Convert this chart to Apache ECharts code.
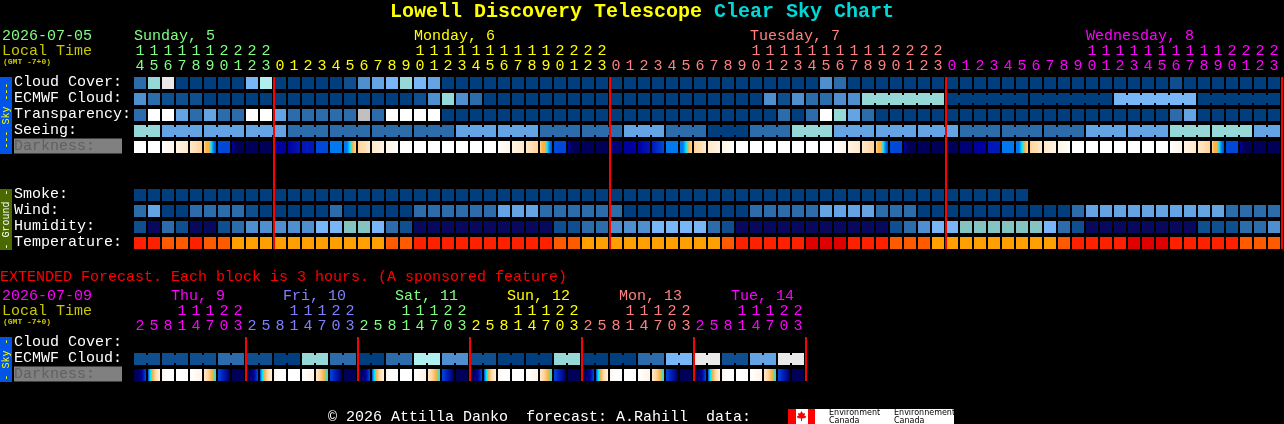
<!DOCTYPE html>
<html>
<head>
<meta charset="utf-8">
<style>html,body{margin:0;padding:0;background:#000;}#c{width:1284px;height:424px;}</style>
<script src="https://cdn.jsdelivr.net/npm/echarts@6/dist/echarts.min.js"></script>
</head>
<body>
<div id="c"></div>
<script>
// ---------- data ----------
const mainHours = [14,15,16,17,18,19,20,21,22,23,
  0,1,2,3,4,5,6,7,8,9,10,11,12,13,14,15,16,17,18,19,20,21,22,23,
  0,1,2,3,4,5,6,7,8,9,10,11,12,13,14,15,16,17,18,19,20,21,22,23,
  0,1,2,3,4,5,6,7,8,9,10,11,12,13,14,15,16,17,18,19,20,21,22,23];
const mainDayLengths = [10,24,24,24];
const mainDayLabels = ['Sunday, 5','Monday, 6','Tuesday, 7','Wednesday, 8'];
const mainDayLabelCols = [0,20,44,68];
const rowLabels = ['Cloud Cover:','ECMWF Cloud:','Transparency:','Seeing:','Darkness:',' ','  ','Smoke:','Wind:','Humidity:','Temperature:'];

const cloudCover = [2,6,8,0,0,0,0,0,5,7, 0,0,0,0,0,1,3,4,5,6,5,4,
  0,0,0,0,0,0,0,0,0,0,0,0,0,0,0,0,0,0,0,0,0,0,0,0,0,0,0, 3,2,
  0,0,0,0,0,0,0,0,0,0,0,0,0,0,0,0,0,0,0,0,0,0,0, 1, 0,0,0,0,0,0,0];
const ecmwfCloud = [3,2,1,1,1, 0,0,0,0,0,0,0,0,0,0,0,0,0,0,0, 1,3,6,3,2,
  0,0,0,0,0,0,0,0,0,0,0,0,0,0,0,0,0,0,0,0, 3,1,3,2,2,3,3,
  6,6,6,6,6,6, 0,0,0,0,0,0, 0,0,0,0,0,0, 5,5,5,5,5,5, 0,0,0,0,0,0];
const ecmwfBlocks = [1,1,1,1,1,1,1,1,1,1,1,1,1,1,1,1,1,1,1,1,1,1,1,1,1,1,
  1,1,1,1,1,1,1,1,1,1,1,1,1,1,1,1,1,1,1,1,1,1,1,1,1,1, 6,6,6,6,6];
const transparency = [2,9,9,4,2,4,2,2,9,9, 4,2,2,2,2,2,10,2,9,9,9,9,
  0,0,0,0,0,0,0,0,0,0,0,0,0,0,0,0,0,0,0,0,0,0,0,0, 2,0,2,9,6,4,2,
  0,0,0,0,0,0,0,0,0,0,0,0,0,0,0,0,0,0,0,0,0, 2,4, 0,0,0,0,0,0];
const seeingByBlock = [6, 4,4,4, 2,2,2,2, 4,4, 2,2, 4, 2, 0, 2, 6, 4,4,4, 2,2,2, 4,4, 6,6, 4];
const seeingBlocks = [2,3,3,3,3,3,3,3,3,3,3,3,3,3,3,3,3,3,3,3,3,3,3,3,3,3,3,2];
const smoke = [0,0,0,0,0,0,0,0,0,0,0,0,0,0,0,0,0,0,0,0,0,0,0,0,0,0,0,0,0,0,0,0,
  0,0,0,0,0,0,0,0,0,0,0,0,0,0,0,0,0,0,0,0,0,0,0,0,0,0,0,0,0,0,0,0];
const wind = [2,4,0,0,2,2,2,2,1,0, 0,0,0,0,2,0,0,0,0,0, 2,2,2,2,2,2, 4,4,4, 2,2,2,2,2,2,
  0,0,0,0,0,0,0,0,0, 2,2,2,2,2, 4,4,4,4, 2,2,2, 0,0,0,0,0,0,0,0,0,0,0, 2,
  4,4,4,4,4,4,4,4,4,4, 2,2,2,2];
const humidity = [1,11,2,1,11,11,1,2,3,3, 3,3,3,5,5,12,12,5,2,1,
  11,11,11,11,11,11,11,11,11,11, 1,1,2,2,3,3,3,5,5,5,5,2,1,
  11,11,11,11,11,11,11,11,11,11,11, 1,2,3,5,5, 12,12,12,12,12,12, 5,2,1,
  11,11,11,11,11,11,11,11, 1,1,1,2,2,3];
const temperature = [2,2,1,1,2,1,1,0,0,0, 0,0,0,0,0,0,0,0, 1,1,
  2,2,2,2,2,2,2,2,2,2, 1,1, 0,0,0,0,0,0,0,0,0,0, 1, 2,2,2,2,2, 3,3,3, 2,2,2, 1,1,1,
  0,0,0,0,0,0,0,0,0, 1, 2,2,2,2, 3,3,3, 2,2,2,2,2, 1,1,1];
const darkness = [[0],[0],[0,1],[1,2],[2,3],[3,4,4,5,6,7],[7],[9,11,11,11],[11],[11],
  [9],[9,8],[8],[7],[6],[6,6,5,4,3],[3,2],[2,1],[1,0],[0],
  [0],[0],[0],[0],[0],[0],[0,1],[1,2],[2,3],[3,4,4,5,6,7],[7],[9,11,11,11],[11],[11],
  [10],[9],[9,8],[8,7],[6],[6,6,5,4,3],[3,2],[2,1],[1,0],[0],
  [0],[0],[0],[0],[0],[0],[0,1],[1,2],[2,3],[3,4,4,5,6,7],[7],[9,11,11,11],[11],[11],
  [11],[10],[9],[8],[6],[6,6,5,4,3],[3,2],[2,1],[1,0],[0],
  [0],[0],[0],[0],[0],[0],[0,1],[1,2],[2,3],[3,4,4,5,6,7],[7],[9,11,11,11],[11],[11]];

const extHours = [2,5,8,11,14,17,20,23, 2,5,8,11,14,17,20,23, 2,5,8,11,14,17,20,23,
  2,5,8,11,14,17,20,23, 2,5,8,11,14,17,20,23, 2,5,8,11,14,17,20,23];
const extDayLabels = ['Thu, 9','Fri, 10','Sat, 11','Sun, 12','Mon, 13','Tue, 14'];
const extRowLabels = ['Cloud Cover:','ECMWF Cloud:','Darkness:'];
const extEcmwfByBlock = [1,1,1,2, 1,0,6,2, 0,2,7,3, 1,0,0,6, 0,0,2,5, 8,1,4,8];
const extDarkness = [
  [11,11,9,7],[7,5,4,3,2,1],[1,0,0,0],[0],[0,1],[2,3,4,5],[7,8,11],[11],
  [11,11,9,7],[7,5,4,3,2,1],[1,0,0,0],[0],[0,1],[2,3,4,5],[7,8,11],[11],
  [11,11,9,7],[7,5,4,3,2,1],[1,0,0,0],[0],[0,1],[2,3,4,5],[7,8,11],[11],
  [11,11,9,7],[7,5,4,3,2,1],[1,0,0,0],[0],[0,1],[2,3,4,5],[7,8,11],[11],
  [11,11,9,7],[7,5,4,3,2,1],[1,0,0,0],[0],[0,1],[2,3,4,5],[7,8,11],[11],
  [11,11,9,7],[7,5,4,3,2,1],[1,0,0,0],[0],[0,1],[2,3,4,5],[7,8,11],[11]];

// ---------- styles ----------
const levelColors = ['#003e7e','#0f4f8f','#2c6cab','#4f8ecf','#64a4e4','#78b6f8','#96d8d8','#b0efef','#e9e9e9','#ffffff','#c0c0c0','#08085c','#85c2c2'];
const tempColors = ['#ffa000','#ff5a00','#ff2000','#e00000'];
const darkColors = ['#ffffff','#fff4e6','#ffe8c8','#ffd49a','#ffb040','#00e8ff','#0078f0','#0048d8','#0018b8','#0000a0','#000078','#000058'];
const mainDayColors = ['#80ff80','#ffff00','#ff8080','#ff00ff'];
const extDayColors = ['#ff00ff','#8080ff','#80ff80','#ffff00','#ff8080','#ff00ff'];
const MONO = '"Liberation Mono"';

// ---------- helpers ----------
const chart = echarts.init(document.getElementById('c'), null, {renderer:'canvas', width:1284, height:424, devicePixelRatio:1});
const CELL = 12, HALF = 6, BRIDGE = 8;

function dayColorFn(lengths, colors){
  const out = [];
  lengths.forEach((n,i)=>{ for(let k=0;k<n;k++) out.push(colors[i]); });
  return out;
}
const mainColColors = dayColorFn(mainDayLengths, mainDayColors);
const extColColors = dayColorFn([8,8,8,8,8,8], extDayColors);

function cellSeries(g, row, values, palette, joins){
  return {
    type:'custom', xAxisIndex:g, yAxisIndex:g, silent:true, animation:false,
    encode:{x:0,y:1},
    renderItem:function(params, api){
      const p = api.coord([api.value(0), api.value(1)]);
      const x = Math.round(p[0]) - HALF, y = Math.round(p[1]) - HALF;
      const fill = palette[api.value(2)];
      const kids = [{type:'rect', shape:{x, y, width:CELL, height:CELL}, style:{fill}}];
      if (api.value(3)) {
        kids.push({type:'rect', shape:{x:x+CELL, y:y+(CELL-BRIDGE)/2, width:2, height:BRIDGE}, style:{fill}});
      }
      return {type:'group', children:kids};
    },
    data: values.map((v,i)=>[i,row,v,joins && joins[i] ? 1 : 0])
  };
}
function expandBlocks(byBlock, blocks){
  const vals=[], joins=[];
  blocks.forEach((n,b)=>{ for(let k=0;k<n;k++){ vals.push(byBlock[b]); joins.push(k<n-1); } });
  return {vals, joins};
}
function joinsOf(blocks){ return expandBlocks(blocks, blocks).joins; }

function darkSeries(g, row, cells){
  return {
    type:'custom', xAxisIndex:g, yAxisIndex:g, silent:true, animation:false,
    encode:{x:0,y:1},
    renderItem:function(params, api){
      const p = api.coord([api.value(0), api.value(1)]);
      const stops = cells[params.dataIndex];
      const fill = stops.length===1 ? darkColors[stops[0]] :
        new echarts.graphic.LinearGradient(0,0,1,0, stops.map((s,i)=>({offset:i/(stops.length-1), color:darkColors[s]})));
      return {type:'rect', shape:{x:Math.round(p[0])-HALF, y:Math.round(p[1])-HALF, width:CELL, height:CELL}, style:{fill}};
    },
    data: cells.map((c,i)=>[i,row])
  };
}
function breakSeries(g, lengths, lastRow){
  const breaks=[]; let c=0;
  lengths.forEach(n=>{ c+=n; breaks.push(c); });
  return {
    type:'custom', xAxisIndex:g, yAxisIndex:g, silent:true, animation:false, z:5,
    encode:{x:0},
    renderItem:function(params, api){
      const col = api.value(0);
      const a = api.coord([col-1,0]), b = api.coord([col-1,lastRow]), w = api.size([1,0])[0];
      return {type:'rect', z2:10, shape:{x:Math.round(a[0]+w/2), y:Math.round(a[1])-HALF, width:2, height:Math.round(b[1]-a[1])+CELL}, style:{fill:'#ff0000'}};
    },
    data: breaks.map(b=>[b,0])
  };
}
function xAxisFor(g, hours, colors){
  return {
    type:'category', gridIndex:g, position:'top', data:hours.map((h,i)=>String(i)),
    axisLine:{show:false}, axisTick:{show:false}, splitLine:{show:false},
    axisLabel:{
      interval:0, margin:1, hideOverlap:false, fontFamily:MONO, fontSize:15, lineHeight:15,
      color:function(v,i){ return colors[+v]; },
      formatter:function(v){ const h=hours[+v]; return (h>=10?String(Math.floor(h/10)):' ')+'\n'+(h%10); }
    }
  };
}
function yAxisFor(g, labels){
  return {
    type:'category', gridIndex:g, inverse:true, data:labels,
    axisLine:{show:false}, axisTick:{show:false}, splitLine:{show:false},
    axisLabel:{
      interval:0, margin:119, align:'left', color:'#fff', fontFamily:MONO, fontSize:15, padding:[0,0,2,0],
      formatter:function(v){ return v==='Darkness:' ? '{d|Darkness:}' : v; },
      rich:{d:{width:108, height:15, backgroundColor:'#808080', color:'#606060', fontFamily:MONO, fontSize:15, padding:0}}
    }
  };
}
function txt(text,x,y,fill,font){
  return {type:'text', x, y, silent:true,
    style:{text, fill, font:font||('15px '+MONO), verticalAlign:'middle'}};
}
function sideBar(y0,y1,bg,label,fg){
  return [
    {type:'rect', shape:{x:0,y:y0,width:12,height:y1-y0}, style:{fill:bg}, silent:true},
    {type:'text', x:6, y:(y0+y1)/2, rotation:Math.PI/2, silent:true,
      style:{text:label, fill:fg, font:'10px '+MONO, align:'center', verticalAlign:'middle'}}
  ];
}

const seeing = expandBlocks(seeingByBlock, seeingBlocks);
const extEcmwf = expandBlocks(extEcmwfByBlock, extEcmwfByBlock.map(()=>2));

const graphics = [
  txt('Lowell Discovery Telescope',390,12,'#ffff00','bold 20px '+MONO),
  txt('Clear Sky Chart',714,12,'#00d8d8','bold 20px '+MONO),
  txt('2026-07-05',2,36,'#80ff80'),
  txt('Local Time',2,51,'#c8c800'),
  txt('(GMT -7+0)',3,62,'#c8c800','bold 8px '+MONO),
  txt('EXTENDED Forecast. Each block is 3 hours. (A sponsored feature)',0,277,'#ff0000'),
  txt('2026-07-09',2,296,'#ff00ff'),
  txt('Local Time',2,311,'#c8c800'),
  txt('(GMT -7+0)',3,322,'#c8c800','bold 8px '+MONO),
  txt('\u00a9 2026 Attilla Danko  forecast: A.Rahill  data:',328,417,'#ffffff'),
  ...sideBar(77,154,'#0055e8','--- Sky ---','#ffff00'),
  ...sideBar(189,250,'#4a6a00','- Ground -','#ffffff'),
  ...sideBar(337,382,'#0055e8','- Sky -','#ffff00'),
  {type:'rect', shape:{x:788,y:409,width:166,height:15}, style:{fill:'#ffffff'}, silent:true},
  {type:'rect', shape:{x:788,y:409,width:8,height:15}, style:{fill:'#ff0000'}, silent:true},
  {type:'rect', shape:{x:808,y:409,width:7,height:15}, style:{fill:'#ff0000'}, silent:true},
  {type:'polygon', silent:true, style:{fill:'#ff0000'}, shape:{points:[[801.5,411],[803,413.5],[805,413],[804.5,416],[806,416],[805.5,418],[802,418.5],[802,421],[801,421],[801,418.5],[797.5,418],[797,416],[798.5,416],[798,413],[800,413.5]]}},
  txt('Environment',829,413,'#000000','8px "DejaVu Sans"'),
  txt('Canada',829,420.5,'#000000','8px "DejaVu Sans"'),
  txt('Environnement',894,413,'#000000','8px "DejaVu Sans"'),
  txt('Canada',894,420.5,'#000000','8px "DejaVu Sans"')
];
mainDayLabels.forEach((t,i)=>graphics.push(txt(t,134+mainDayLabelCols[i]*14,36,mainDayColors[i])));
extDayLabels.forEach((t,i)=>graphics.push(txt(t,171+i*112,296,extDayColors[i])));

chart.setOption({
  backgroundColor:'#000',
  animation:false,
  textStyle:{fontFamily:MONO},
  grid:[
    {left:133, top:75, width:1148, height:176, containLabel:false},
    {left:133, top:335, width:672, height:48, containLabel:false}
  ],
  xAxis:[xAxisFor(0,mainHours,mainColColors), xAxisFor(1,extHours,extColColors)],
  yAxis:[yAxisFor(0,rowLabels), yAxisFor(1,extRowLabels)],
  series:[
    cellSeries(0,0,cloudCover,levelColors),
    cellSeries(0,1,ecmwfCloud,levelColors,joinsOf(ecmwfBlocks)),
    cellSeries(0,2,transparency,levelColors),
    cellSeries(0,3,seeing.vals,levelColors,seeing.joins),
    darkSeries(0,4,darkness),
    cellSeries(0,7,smoke,levelColors),
    cellSeries(0,8,wind,levelColors),
    cellSeries(0,9,humidity,levelColors),
    cellSeries(0,10,temperature,tempColors),
    breakSeries(0,mainDayLengths,10),
    cellSeries(1,1,extEcmwf.vals,levelColors,extEcmwf.joins),
    darkSeries(1,2,extDarkness),
    breakSeries(1,[8,8,8,8,8,8],2)
  ],
  graphic:graphics
});
</script>
</body>
</html>
